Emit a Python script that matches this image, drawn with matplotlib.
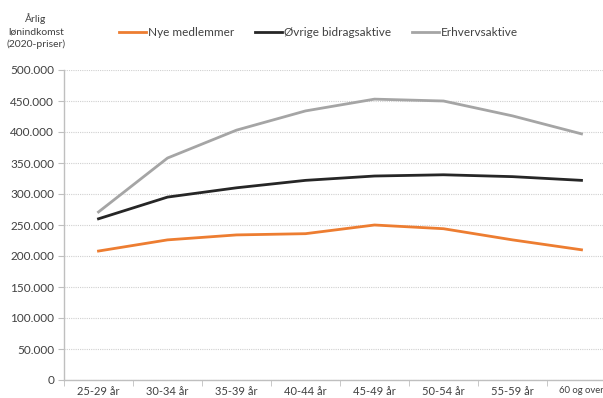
import matplotlib.pyplot as plt
import numpy as np

# Annual wage income by age group (2020 prices)
age_groups = ["25-29 år", "30-34 år", "35-39 år", "40-44 år",
              "45-49 år", "50-54 år", "55-59 år", "60 og over"]
nye_medlemmer = [208000, 226000, 234000, 236000, 250000, 244000, 226000, 210000]
ovrige_bidragsaktive = [260000, 295000, 310000, 322000, 329000, 331000, 328000, 322000]
erhvervsaktive = [271000, 358000, 403000, 434000, 453000, 450000, 426000, 397000]

plt.rcParams['font.family'] = ['Lato', 'DejaVu Sans']

fig = plt.figure(figsize=(6.03, 3.98), dpi=100, facecolor="white")
# plot area runs slightly past the right edge of the figure
ax = fig.add_axes([64 / 603, 18 / 398, 552 / 603, 310 / 398])

x = np.arange(len(age_groups))
ax.plot(x, nye_medlemmer, color="#ED7D31", lw=2, label="Nye medlemmer")
ax.plot(x, ovrige_bidragsaktive, color="#262626", lw=2, label="Øvrige bidragsaktive")
ax.plot(x, erhvervsaktive, color="#A5A5A5", lw=2, label="Erhvervsaktive")

ax.set_xlim(-0.5, len(age_groups) - 0.5)
ax.set_ylim(0, 500000)
ax.set_yticks(np.arange(0, 500001, 50000))
ax.set_yticklabels([f"{v:,}".replace(",", ".") for v in range(0, 500001, 50000)],
                   fontsize=8.5, color="#404040")
ax.set_xticks(x)
ax.set_xticklabels(age_groups, fontsize=8, color="#404040")
# last label sits at the figure edge, so keep it a bit smaller
ax.get_xticklabels()[-1].set_fontsize(6.8)
ax.set_xticks(np.arange(-0.5, len(age_groups)), minor=True)
ax.tick_params(axis="x", which="major", length=0, pad=4)
ax.tick_params(axis="x", which="minor", length=4, color="#BFBFBF")
ax.tick_params(axis="y", length=4, color="#BFBFBF", pad=3)

ax.grid(axis="y", color="#D0D0D0", linestyle=(0, (1, 1)), lw=0.8)
ax.set_axisbelow(True)
for side in ["top", "right"]:
    ax.spines[side].set_visible(False)
for side in ["left", "bottom"]:
    ax.spines[side].set_color("#BFBFBF")
    ax.spines[side].set_linewidth(1)

fig.text(36 / 603, 1 - 31 / 398, "Årlig\nlønindkomst\n(2020-priser)", ha="center",
         va="center", fontsize=7.5, color="#404040", linespacing=1.5)

fig.legend(loc="center left", bbox_to_anchor=(108 / 603, 1 - 33 / 398), ncol=3,
           frameon=False, fontsize=8.5, handlelength=2.3, handletextpad=0.15,
           columnspacing=1.8, labelcolor="#404040")

plt.savefig("out.png", dpi=100)
